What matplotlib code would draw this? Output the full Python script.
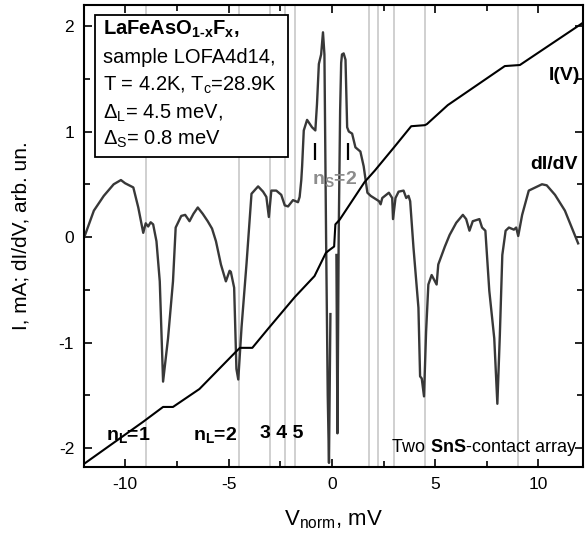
#!/usr/bin/env python
"""
I(V) and dI/dV of a two SnS-contact array (LaFeAsO1-xFx),
with the subharmonic gap structure marked by gray lines.
"""
import numpy as np
import matplotlib
matplotlib.use("Agg")
import matplotlib.pyplot as plt

# dI/dV curve (arb. un.); nan = break in the trace
didv_v = [-12.0, -11.52, -11.04, -10.56, -10.21, -10.01, -9.61, -9.37, -9.13,
          -9.01, -8.89, -8.77, -8.65, -8.49, -8.33, -8.17, -7.93, -7.69,
          -7.56, -7.29, -7.10, -6.89, -6.70, -6.49, -6.25, -6.01, -5.80,
          -5.61, -5.37, -5.13, -4.95, -4.89, -4.73, -4.62, -4.53, -4.37,
          -4.13, -3.89, -3.57, -3.33, -3.17, -3.05, -2.93, -2.69, -2.45,
          -2.28, -2.12, -1.88, -1.64, -1.56, -1.48, -1.44, -1.36, -1.20,
          -0.96, -0.80, -0.72, -0.63, -0.52, -0.43, -0.36, -0.28, -0.20,
          -0.14, -0.07, np.nan, 0.22, 0.27, 0.33, 0.40, 0.45, 0.49, 0.57,
          0.66, 0.74, 0.82, 0.98, 1.14, 1.38, 1.54, 1.72, 1.88, 2.28, 2.36,
          2.44, 2.76, 2.92, 2.96, 3.08, 3.23, 3.47, 3.60, 3.71, 3.79, 3.95,
          4.19, 4.27, 4.35, 4.46, 4.56, 4.67, 4.83, 5.07, 5.15, 5.47, 5.70,
          6.02, 6.34, 6.50, 6.66, 6.82, 7.14, 7.27, 7.43, 7.62, 7.86, 8.01,
          8.13, 8.25, 8.41, 8.57, 8.81, 8.92, 9.02, 9.21, 9.53, 9.85, 10.17,
          10.40, 10.80, 11.28, 11.92]
didv = [-0.01, 0.25, 0.39, 0.50, 0.54, 0.51, 0.47, 0.28, 0.04,
        0.13, 0.10, 0.14, 0.12, -0.04, -0.42, -1.37, -0.96, -0.42,
        0.09, 0.20, 0.21, 0.15, 0.22, 0.28, 0.22, 0.15, 0.08,
        -0.04, -0.26, -0.42, -0.32, -0.33, -0.48, -1.25, -1.35, -0.85,
        -0.25, 0.41, 0.48, 0.43, 0.38, 0.19, 0.44, 0.44, 0.40,
        0.30, 0.29, 0.35, 0.33, 0.38, 0.54, 0.67, 1.01, 1.11,
        1.04, 1.01, 1.26, 1.64, 1.73, 1.94, 1.73, 0.0, -1.5,
        -2.14, -0.73, np.nan, -0.17, -1.86, 0.0, 1.2, 1.65, 1.73, 1.74,
        1.68, 1.04, 1.00, 0.98, 0.85, 0.81, 0.67, 0.42, 0.39, 0.34, 0.31,
        0.37, 0.42, 0.37, 0.17, 0.37, 0.43, 0.44, 0.37, 0.39, 0.34, -0.10,
        -0.67, -1.32, -1.34, -1.51, -0.90, -0.45, -0.36, -0.45, -0.26, -0.09, 0.02,
        0.135, 0.21, 0.17, 0.06, 0.15, 0.17, 0.09, 0.06, -0.51, -0.96, -1.58,
        -0.93, -0.17, 0.06, 0.09, 0.07, 0.09, 0.01, 0.21, 0.44, 0.47, 0.50,
        0.49, 0.40, 0.25, -0.06]

# I(V) curve, mA
iv_v = [-12.0, -9.13, -8.17, -7.69, -6.41, -4.66, -4.45, -3.85, -3.09, -1.80,
        -0.84, -0.29, -0.10, 0.11, 0.17, 0.38, 1.58, 2.08, 3.03, 3.84, 4.50,
        4.60, 5.61, 8.37, 9.10, 12.15]
iv_i = [-2.15, -1.75, -1.61, -1.61, -1.44, -1.09, -1.05, -1.05, -0.87, -0.57,
        -0.37, -0.15, -0.12, -0.09, 0.12, 0.165, 0.52, 0.63, 0.855, 1.05, 1.06,
        1.07, 1.25, 1.62, 1.63, 2.03]

# subharmonic gap positions 2*Delta_L/n, n = 1..5
gap_lines = [-9, -4.5, -3, -2.25, -1.8, 1.8, 2.25, 3, 4.5, 9]
# small gap, n_S = 2
small_gap = [-0.8, 0.8]

plt.rcParams['font.family'] = ['Liberation Sans', 'DejaVu Sans']
plt.rcParams['mathtext.fontset'] = 'custom'
plt.rcParams['mathtext.rm'] = 'Liberation Sans'
plt.rcParams['mathtext.bf'] = 'Liberation Sans:bold'
plt.rcParams['mathtext.it'] = 'Liberation Sans:italic'
plt.rcParams['mathtext.default'] = 'regular'
plt.rcParams['axes.unicode_minus'] = False

fig = plt.figure(figsize=(5.87, 5.40), dpi=100)
ax = fig.add_axes([0.143, 0.135, 0.85, 0.856])

for v in gap_lines:
    ax.axvline(v, color='#c8c8c8', lw=1.2, zorder=1)
ax.vlines(small_gap, 0.73, 0.89, color='black', lw=1.6, zorder=3)

ax.plot(didv_v, didv, color='#383838', lw=1.7, zorder=2)
ax.plot(iv_v, iv_i, color='black', lw=1.5, zorder=3)

ax.set_xlim(-12.0, 12.15)
ax.set_ylim(-2.18, 2.2)
ax.set_xticks([-10, -5, 0, 5, 10])
ax.set_xticks([-7.5, -2.5, 2.5, 7.5], minor=True)
ax.set_yticks([-2, -1, 0, 1, 2])
ax.set_yticks([-1.5, -0.5, 0.5, 1.5], minor=True)
ax.tick_params(which='both', direction='in', top=True, right=True,
               labelsize=12.5, width=1.2)
ax.tick_params(which='major', length=6, pad=7)
ax.tick_params(which='minor', length=4)
for s in ax.spines.values():
    s.set_linewidth(1.5)

ax.set_xlabel('V$_{norm}$, mV', fontsize=16, labelpad=12)
ax.set_ylabel('I, mA; dI/dV, arb. un.', fontsize=15)
ax.yaxis.set_label_coords(-0.108, 0.5)

# info box
box = plt.Rectangle((0.022, 0.671), 0.387, 0.307, transform=ax.transAxes,
                    facecolor='white', edgecolor='black', lw=1.3, zorder=4)
ax.add_patch(box)
info = ['LaFeAsO$_{1\u2010x}$F$_x$,', 'sample LOFA4d14,',
        'T = 4.2K, T$_c$=28.9K', 'Δ$_L$= 4.5 meV,', 'Δ$_S$= 0.8 meV']
ys = [0.946, 0.886, 0.826, 0.766, 0.708]
for k, (t, y) in enumerate(zip(info, ys)):
    ax.text(0.038, y, t, transform=ax.transAxes, fontsize=14.5, va='center',
            fontweight='bold' if k == 0 else 'normal', zorder=5)

ax.text(0.995, 0.848, 'I(V)', transform=ax.transAxes, ha='right',
        va='center', fontsize=14, fontweight='bold')
ax.text(0.99, 0.654, 'dI/dV', transform=ax.transAxes, ha='right',
        va='center', fontsize=14, fontweight='bold')
ax.text(0.15, 0.55, 'n$_S$=2', ha='center', va='center', fontsize=14,
        fontweight='bold', color='#8c8c8c')
ax.text(-9.85, -1.88, 'n$_L$=1', ha='center', va='center', fontsize=14,
        fontweight='bold')
ax.text(-5.65, -1.88, 'n$_L$=2', ha='center', va='center', fontsize=14,
        fontweight='bold')
ax.text(-2.45, -1.86, '3 4 5', ha='center', va='center', fontsize=14,
        fontweight='bold')
ax.text(0.988, 0.042, r'Two $\mathbf{SnS}$-contact array',
        transform=ax.transAxes, ha='right', va='center', fontsize=13)

fig.savefig('out.png', dpi=100)
